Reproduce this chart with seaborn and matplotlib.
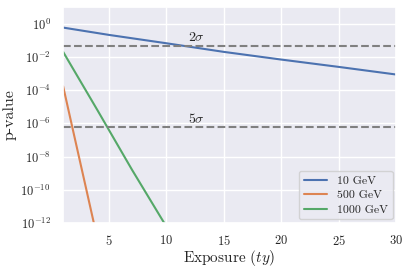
import numpy as np
import pandas as pd
import matplotlib
matplotlib.use("Agg")
import matplotlib.pyplot as plt
import seaborn as sns

# values (p-value vs exposure in ty)
exposure_10 = [1, 5, 10, 15, 20, 25, 30]
pvalue_10 = [0.58, 0.21, 0.066, 0.020, 0.0069, 0.0025, 0.00087]

exposure_500 = [1, 2, 3, 4]
pvalue_500 = [1.7e-4, 1.4e-7, 1.2e-10, 1.0e-13]

exposure_1000 = [1, 4, 7, 10]
pvalue_1000 = [2.0e-2, 6.0e-6, 1.6e-9, 6.0e-13]

labels = ["10 GeV", "500 GeV", "1000 GeV"]
sigma_levels = {"$2\\sigma$": 0.0455, "$5\\sigma$": 5.7e-7}


def make_frame():
    parts = []
    for xs, ps, lab in zip([exposure_10, exposure_500, exposure_1000],
                           [pvalue_10, pvalue_500, pvalue_1000], labels):
        parts.append(pd.DataFrame({"exposure": xs, "pvalue": ps, "mass": lab}))
    return pd.concat(parts, ignore_index=True)


sns.set_theme(style="darkgrid")
plt.rcParams["font.family"] = "serif"
plt.rcParams["font.serif"] = ["cmr10", "DejaVu Serif"]
plt.rcParams["mathtext.fontset"] = "cm"
plt.rcParams["axes.formatter.use_mathtext"] = True

df = make_frame()

fig, ax = plt.subplots(figsize=(4.1, 2.71), dpi=100)
fig.subplots_adjust(left=0.154, right=0.966, top=0.974, bottom=0.177)

sns.lineplot(data=df, x="exposure", y="pvalue", hue="mass", ax=ax, linewidth=1.5)
ax.set_yscale("log")

for txt, p in sigma_levels.items():
    ax.axhline(p, color="gray", linestyle="--", linewidth=1.5)
    ax.text(11.9, p * 1.25, txt, fontsize=10, va="bottom")

ax.set_xlim(1, 30)
ax.set_ylim(1e-12, 10)
ax.set_yticks([1e0, 1e-2, 1e-4, 1e-6, 1e-8, 1e-10, 1e-12])
ax.set_xticks([5, 10, 15, 20, 25, 30])
ax.tick_params(labelsize=9, pad=3)
ax.tick_params(axis="x", pad=2)
ax.set_xlabel("Exposure ($ty$)", fontsize=11, labelpad=0)
ax.set_ylabel("p-value", fontsize=11.5, labelpad=3)
ax.legend(title=None, loc="lower right", fontsize=8.5, labelspacing=0.35,
          borderaxespad=0.3)

fig.savefig("out.png", dpi=100)
